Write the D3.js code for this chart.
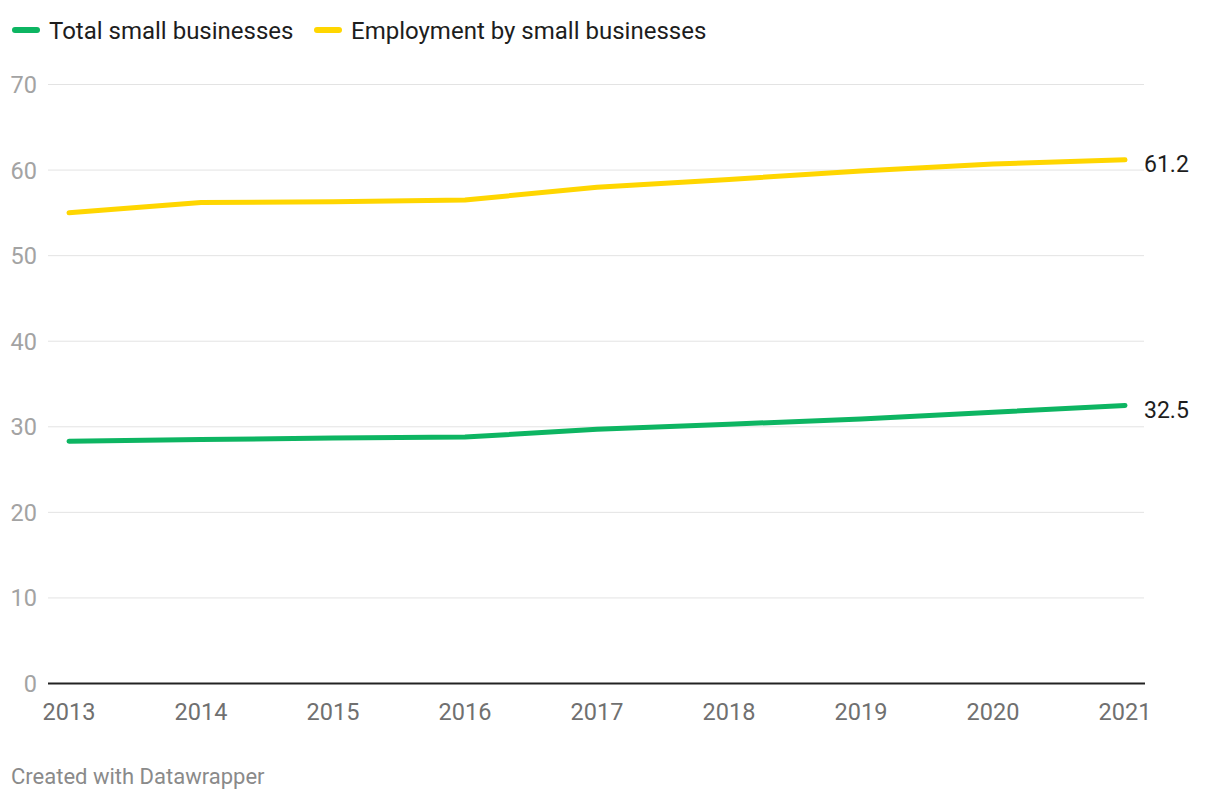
<!DOCTYPE html>
<html>
<head>
<meta charset="utf-8">
<script src="https://cdn.jsdelivr.net/npm/d3@7"></script>
<style>
  html, body { margin: 0; padding: 0; background: #fff; }
  svg { display: block; font-family: Roboto, "Noto Sans", sans-serif; }
</style>
</head>
<body>
<svg id="chart" width="1220" height="800"></svg>
<script>
const years = [2013, 2014, 2015, 2016, 2017, 2018, 2019, 2020, 2021];
const totalSmallBusinesses = [28.3, 28.5, 28.7, 28.8, 29.7, 30.3, 30.9, 31.7, 32.5];
const employmentBySmallBusinesses = [55.0, 56.2, 56.3, 56.5, 58.0, 58.9, 59.9, 60.7, 61.2];
const yTicks = [0, 10, 20, 30, 40, 50, 60, 70];
const seriesNames = ["Total small businesses", "Employment by small businesses"];
const seriesColors = ["#0db562", "#ffd600"];
const footerText = "Created with Datawrapper";

const series = [
  { name: seriesNames[0], color: seriesColors[0], values: totalSmallBusinesses },
  { name: seriesNames[1], color: seriesColors[1], values: employmentBySmallBusinesses }
];

const svg = d3.select("#chart");
const x = d3.scaleLinear().domain([2013, 2021]).range([69, 1125]);
const y = d3.scaleLinear().domain([0, 70]).range([683.5, 84.5]);
const gridLeft = 48, gridRight = 1144;

// Gridlines
const grid = svg.append("g");
grid.selectAll("line").data(yTicks.filter(d => d !== 0)).join("line")
  .attr("x1", gridLeft).attr("x2", gridRight)
  .attr("y1", d => y(d)).attr("y2", d => y(d))
  .attr("stroke", "#e3e3e3").attr("stroke-width", 1);

// Y tick labels
svg.append("g").selectAll("text").data(yTicks).join("text")
  .attr("x", 37).attr("y", d => y(d))
  .attr("dy", "0.36em")
  .attr("text-anchor", "end")
  .attr("font-size", 23.5)
  .attr("fill", "#a3a3a3")
  .text(d => d);

// X tick labels
svg.append("g").selectAll("text").data(years).join("text")
  .attr("x", d => x(d)).attr("y", 720)
  .attr("text-anchor", "middle")
  .attr("font-size", 23.5)
  .attr("fill", "#707070")
  .text(d => d);

// Baseline
svg.append("line")
  .attr("x1", gridLeft).attr("x2", gridRight + 1)
  .attr("y1", y(0)).attr("y2", y(0))
  .attr("stroke", "#222").attr("stroke-width", 2);

// Lines
const line = d3.line().x((d, i) => x(years[i])).y(d => y(d));
svg.append("g").selectAll("path").data(series).join("path")
  .attr("d", d => line(d.values))
  .attr("fill", "none")
  .attr("stroke", d => d.color)
  .attr("stroke-width", 5)
  .attr("stroke-linecap", "round")
  .attr("stroke-linejoin", "round");

// End labels
svg.append("g").selectAll("text").data(series).join("text")
  .attr("x", x(2021) + 19)
  .attr("y", d => y(d.values[d.values.length - 1]) + 4)
  .attr("dy", "0.36em")
  .attr("font-size", 23)
  .attr("fill", "#1d1d1d")
  .text(d => d.values[d.values.length - 1].toFixed(1));

// Legend
const legendX = [12, 314];
const legend = svg.append("g").selectAll("g").data(series).join("g")
  .attr("transform", (d, i) => `translate(${legendX[i]},30)`);
legend.append("line")
  .attr("x1", 3).attr("x2", 25).attr("y1", 0).attr("y2", 0)
  .attr("stroke", d => d.color).attr("stroke-width", 6).attr("stroke-linecap", "round");
legend.append("text")
  .attr("x", 37).attr("y", 0).attr("dy", "0.36em")
  .attr("font-size", 24).attr("fill", "#1d1d1d")
  .text(d => d.name);

// Footer
svg.append("text")
  .attr("x", 11).attr("y", 784)
  .attr("font-size", 22).attr("fill", "#8a8a8a")
  .text(footerText);
</script>
</body>
</html>
